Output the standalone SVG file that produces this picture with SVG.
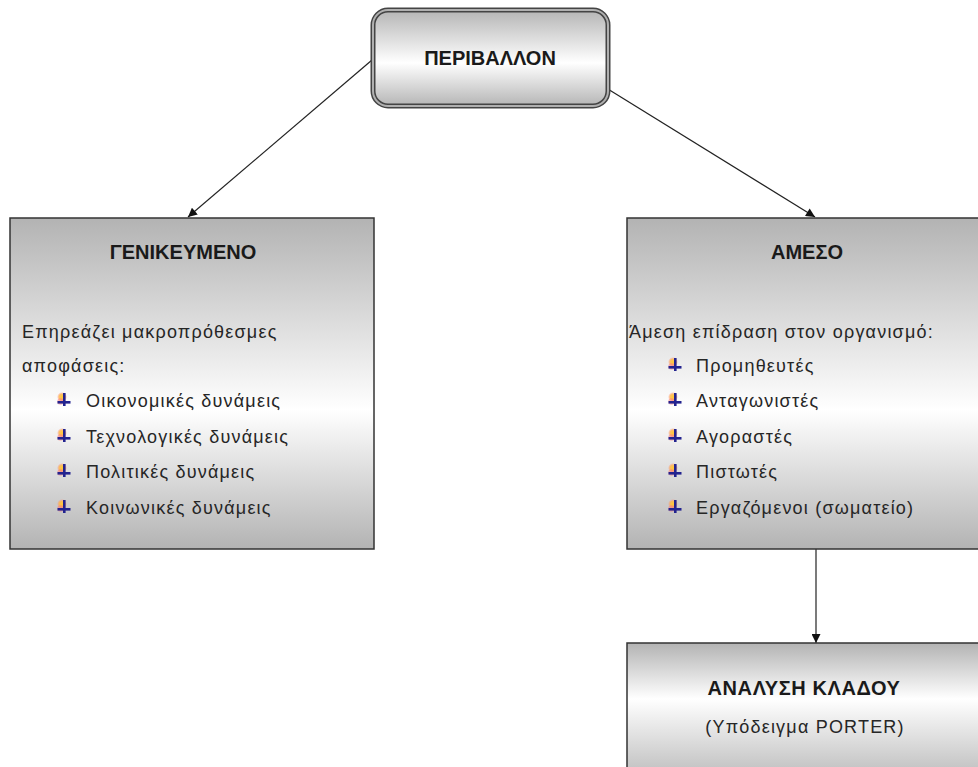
<svg xmlns="http://www.w3.org/2000/svg" width="978" height="767" viewBox="0 0 978 767">
<style>
.title{font-family:"Liberation Sans",Arial,sans-serif;font-weight:bold;font-size:20px;fill:#1a1a1a;text-anchor:middle}
.body{font-family:"Liberation Sans",Arial,sans-serif;font-size:18px;fill:#262626;letter-spacing:1.2px}
.box{stroke:#333;stroke-width:1.5}
.conn{stroke:#222;stroke-width:1.2;fill:none}
</style>
<defs>
<linearGradient id="gTop" x1="0" y1="0" x2="0" y2="1">
<stop offset="0" stop-color="#b5b5b5"/><stop offset="0.55" stop-color="#ffffff"/><stop offset="1" stop-color="#b5b5b5"/>
</linearGradient>
<linearGradient id="gBox" x1="0" y1="0" x2="0" y2="1">
<stop offset="0" stop-color="#b3b3b3"/><stop offset="0.58" stop-color="#ffffff"/><stop offset="1" stop-color="#b3b3b3"/>
</linearGradient>
<linearGradient id="gBot" gradientUnits="userSpaceOnUse" x1="0" y1="643" x2="0" y2="790">
<stop offset="0" stop-color="#b3b3b3"/><stop offset="0.38" stop-color="#ffffff"/><stop offset="1" stop-color="#b3b3b3"/>
</linearGradient>
<marker id="arr" viewBox="0 0 10 10" refX="10" refY="5" markerWidth="10" markerHeight="9" markerUnits="userSpaceOnUse" orient="auto">
<path d="M0,0 L10,5 L0,10 z" fill="#111"/>
</marker>
<radialGradient id="glow" cx="0.5" cy="0.5" r="0.5">
<stop offset="0" stop-color="#ffcc33"/><stop offset="0.6" stop-color="#ffb347" stop-opacity="0.8"/><stop offset="1" stop-color="#ff8080" stop-opacity="0"/>
</radialGradient>
<symbol id="bul" viewBox="0 0 14 15">
<circle cx="5" cy="5" r="5" fill="url(#glow)"/>
<circle cx="3.5" cy="9.5" r="3.2" fill="#ff7070" opacity="0.45"/>
<rect x="6" y="1" width="2.6" height="13" fill="#23238f"/>
<rect x="0.5" y="9" width="13" height="2.6" fill="#23238f"/>
</symbol>
</defs>
<rect width="978" height="767" fill="#fff"/>

<g id="connectors">
<line class="conn" x1="372" y1="60" x2="188" y2="217" marker-end="url(#arr)"/>
<line class="conn" x1="603" y1="86" x2="815" y2="217" marker-end="url(#arr)"/>
<line class="conn" x1="816" y1="549" x2="816" y2="643" marker-end="url(#arr)"/>
</g>

<g id="perivallon">
<rect x="373" y="10" width="235" height="96" rx="15" fill="url(#gTop)" stroke="#444" stroke-width="5"/>
<rect x="373" y="10" width="235" height="96" rx="15" fill="none" stroke="#b0b0b0" stroke-width="2"/>
<text class="title" x="490" y="65">ΠΕΡΙΒΑΛΛΟΝ</text>
</g>

<g id="genikeymeno">
<rect class="box" x="10" y="218" width="364" height="331" fill="url(#gBox)"/>
<text class="title" x="183" y="259">ΓΕΝΙΚΕΥΜΕΝΟ</text>
<text class="body" x="22" y="338">Επηρεάζει μακροπρόθεσμες</text>
<text class="body" x="22" y="372">αποφάσεις:</text>
<use href="#bul" x="57" y="392" width="14" height="15"/>
<text class="body" x="86" y="407">Οικονομικές δυνάμεις</text>
<use href="#bul" x="57" y="428" width="14" height="15"/>
<text class="body" x="86" y="443">Τεχνολογικές δυνάμεις</text>
<use href="#bul" x="57" y="463" width="14" height="15"/>
<text class="body" x="86" y="478">Πολιτικές δυνάμεις</text>
<use href="#bul" x="57" y="499" width="14" height="15"/>
<text class="body" x="86" y="514">Κοινωνικές δυνάμεις</text>
</g>

<g id="ameso">
<rect class="box" x="627" y="218" width="370" height="331" fill="url(#gBox)"/>
<text class="title" x="807" y="259">ΑΜΕΣΟ</text>
<text class="body" x="629" y="338">Άμεση επίδραση στον οργανισμό:</text>
<use href="#bul" x="668" y="357" width="14" height="15"/>
<text class="body" x="696" y="372">Προμηθευτές</text>
<use href="#bul" x="668" y="392" width="14" height="15"/>
<text class="body" x="696" y="407">Ανταγωνιστές</text>
<use href="#bul" x="668" y="428" width="14" height="15"/>
<text class="body" x="696" y="443">Αγοραστές</text>
<use href="#bul" x="668" y="463" width="14" height="15"/>
<text class="body" x="696" y="478">Πιστωτές</text>
<use href="#bul" x="668" y="499" width="14" height="15"/>
<text class="body" x="696" y="514">Εργαζόμενοι (σωματείο)</text>
</g>

<g id="analysi">
<rect class="box" x="627" y="643" width="370" height="150" fill="url(#gBot)"/>
<text class="title" x="804" y="695" letter-spacing="0.6">ΑΝΑΛΥΣΗ ΚΛΑΔΟΥ</text>
<text class="body" x="805" y="733" text-anchor="middle">(Υπόδειγμα PORTER)</text>
</g>
</svg>
